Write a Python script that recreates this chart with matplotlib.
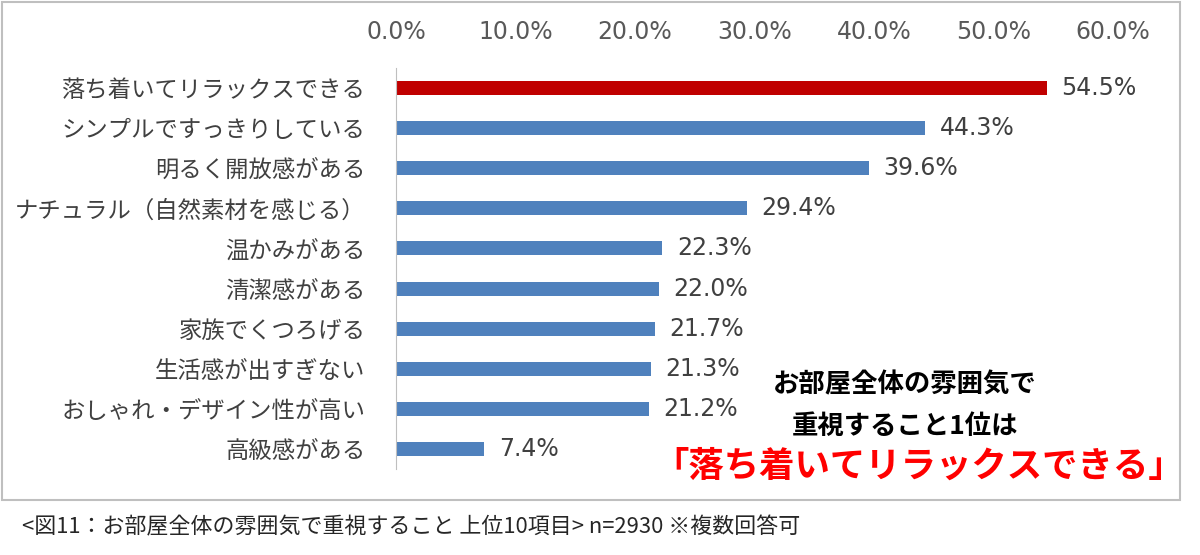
import matplotlib.pyplot as plt
from matplotlib.patches import Rectangle
from matplotlib.ticker import FuncFormatter

plt.rcParams['font.family'] = ['Noto Sans CJK JP', 'DejaVu Sans']
NUM_FONT = ['DejaVu Sans', 'Noto Sans CJK JP']

# 項目と割合（%）
labels = ['落ち着いてリラックスできる', 'シンプルですっきりしている', '明るく開放感がある',
          'ナチュラル（自然素材を感じる）', '温かみがある', '清潔感がある',
          '家族でくつろげる', '生活感が出すぎない', 'おしゃれ・デザイン性が高い', '高級感がある']
values = [54.5, 44.3, 39.6, 29.4, 22.3, 22.0, 21.7, 21.3, 21.2, 7.4]
colors = ['#C00000'] + ['#4F81BD'] * 9

fig = plt.figure(figsize=(12, 5.55), dpi=100)
ax = fig.add_axes([0.33, 0.155, 0.5975, 0.7225])

pos = list(range(len(labels)))
ax.barh(pos, values, height=0.35, color=colors)
ax.set_ylim(len(labels) - 0.5, -0.5)
ax.set_xlim(0, 60)
ax.set_xticks([0, 10, 20, 30, 40, 50, 60])
ax.xaxis.set_major_formatter(FuncFormatter(lambda v, p: f'{v:.1f}%'))
ax.xaxis.tick_top()
ax.tick_params(axis='x', length=0, pad=17, labelsize=17, labelcolor='#595959')
for t in ax.get_xticklabels():
    t.set_family(NUM_FONT)
ax.set_yticks(pos)
ax.set_yticklabels(labels)
ax.tick_params(axis='y', length=0, pad=22, labelsize=16.8, labelcolor='#404040')
for s in ['top', 'right', 'bottom']:
    ax.spines[s].set_visible(False)
ax.spines['left'].set_color('#BFBFBF')

# 値ラベル
for y, v in zip(pos, values):
    ax.text(v + 1.2, y, f'{v:.1f}%', va='center', ha='left', fontsize=17,
            color='#404040', family=NUM_FONT)

# 注記
fig.text(905 / 1200, 1 - 385 / 555, 'お部屋全体の雰囲気で', ha='center', va='center',
         fontsize=19, fontweight='bold', color='black')
fig.text(905 / 1200, 1 - 427 / 555, '重視すること1位は', ha='center', va='center',
         fontsize=19, fontweight='bold', color='black')
fig.text(919 / 1200, 1 - 466 / 555, '「落ち着いてリラックスできる」', ha='center', va='center',
         fontsize=25.5, fontweight='bold', color='#FF0000')

# 外枠
fig.patches.append(Rectangle((2 / 1200, 1 - 500 / 555), 1178 / 1200, 498 / 555,
                             transform=fig.transFigure, fill=False,
                             edgecolor='#BFBFBF', linewidth=1.5))

fig.text(22 / 1200, 1 - 527 / 555, '<図11：お部屋全体の雰囲気で重視すること 上位10項目> n=2930 ※複数回答可',
         ha='left', va='center', fontsize=15.8, color='#262626')

fig.savefig('out.png', dpi=100)
